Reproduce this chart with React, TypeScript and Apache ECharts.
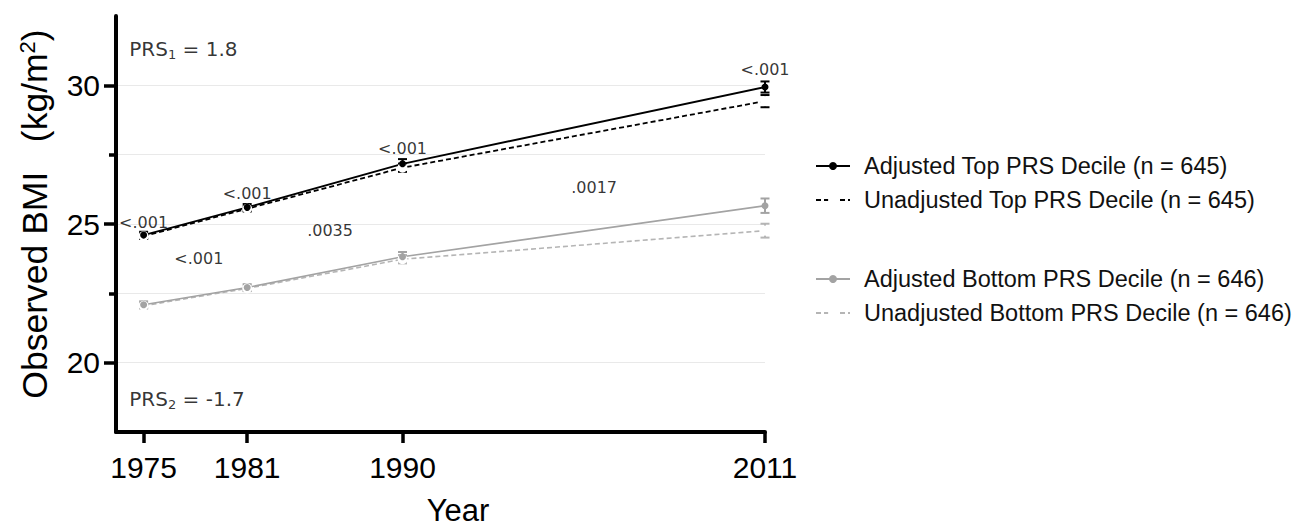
import React, { useEffect, useRef } from "react";
import * as echarts from "echarts";

const years = [1975, 1981, 1990, 2011];
const xTickValues = [1975, 1981, 1990, 2011];
const yLabelValues = [20, 25, 30];
const yMinorTickValues = [22.5, 27.5];

const adjTop = [24.6, 25.6, 27.17, 29.94];
const adjTopErr = [0.12, 0.12, 0.17, 0.2];
const unadjTop = [24.56, 25.55, 27.03, 29.43];
const unadjTopErr = [0.1, 0.1, 0.15, 0.22];
const adjBottom = [22.09, 22.71, 23.82, 25.66];
const adjBottomErr = [0.12, 0.12, 0.17, 0.26];
const unadjBottom = [22.05, 22.68, 23.73, 24.76];
const unadjBottomErr = [0.1, 0.1, 0.15, 0.25];

const seriesNames = [
  "Adjusted Top PRS Decile (n = 645)",
  "Unadjusted Top PRS Decile (n = 645)",
  "Adjusted Bottom PRS Decile (n = 646)",
  "Unadjusted Bottom PRS Decile (n = 646)",
];

// p-value annotations: [year, value, text]
const pAnnotations: [number, number, string][] = [
  [1975, 25.07, "<.001"],
  [1981, 26.09, "<.001"],
  [1990, 27.72, "<.001"],
  [2011, 30.58, "<.001"],
  [1978.2, 23.77, "<.001"],
  [1985.8, 24.78, ".0035"],
  [2001.1, 26.3, ".0017"],
];

// PRS annotations: [year, value, subscript, rest]
const prsAnnotations: [number, number, string, string][] = [
  [1974.17, 31.3, "1", " = 1.8"],
  [1974.17, 18.7, "2", " = -1.7"],
];

const BLACK = "#000000";
const GRAY_ADJ = "#a3a3a3";
const GRAY_UNADJ = "#b5b5b5";
const AXIS_FONT = "'Liberation Sans', Arial, sans-serif";
const ANNOT_FONT = "'DejaVu Sans', Verdana, sans-serif";

function errSeries(vals: number[], errs: number[], color: string) {
  return {
    type: "custom",
    z: 3,
    silent: true,
    data: years.map((y, i) => [y, vals[i], errs[i]]),
    renderItem: (params: any, api: any) => {
      const x = api.value(0);
      const v = api.value(1);
      const e = api.value(2);
      const top = api.coord([x, v + e]);
      const bot = api.coord([x, v - e]);
      const cw = 4.5;
      const style = { stroke: color, lineWidth: 2 };
      return {
        type: "group",
        children: [
          { type: "line", shape: { x1: top[0], y1: top[1], x2: bot[0], y2: bot[1] }, style },
          { type: "line", shape: { x1: top[0] - cw, y1: top[1], x2: top[0] + cw, y2: top[1] }, style },
          { type: "line", shape: { x1: bot[0] - cw, y1: bot[1], x2: bot[0] + cw, y2: bot[1] }, style },
        ],
      };
    },
  };
}

function lineSeries(name: string, vals: number[], color: string, dashed: boolean, width: number) {
  return {
    name,
    type: "line",
    z: 4,
    data: years.map((y, i) => [y, vals[i]]),
    symbol: dashed ? "emptyCircle" : "circle",
    symbolSize: dashed ? 8 : 7,
    showSymbol: true,
    lineStyle: { color, width, type: dashed ? [5, 3] : "solid" },
    itemStyle: { color: dashed ? "#ffffff" : color, borderColor: color, borderWidth: dashed ? 1.6 : 0 },
    emphasis: { disabled: true },
  };
}

export default function App() {
  const ref = useRef<HTMLDivElement>(null);
  useEffect(() => {
    if (!ref.current) return;
    const chart = echarts.init(ref.current, undefined, { renderer: "svg" });
    const legendText = { fontSize: 23.5, color: "#111", fontFamily: AXIS_FONT, padding: [0, 0, 0, 9] };
    chart.setOption({
      animation: false,
      backgroundColor: "#ffffff",
      grid: { left: 116, right: 536, top: 16, bottom: 95, containLabel: false, outerBoundsMode: "none" },
      legend: [
        {
          data: [
            { name: seriesNames[0], itemStyle: { color: BLACK, borderWidth: 0 } },
            { name: seriesNames[1], itemStyle: { color: "#fff", borderColor: BLACK, borderWidth: 1.2 } },
          ],
          orient: "vertical",
          left: 810,
          top: 149,
          itemWidth: 34,
          itemHeight: 10,
          itemGap: 10,
          textStyle: legendText,
          selectedMode: false,
        },
        {
          data: [
            { name: seriesNames[2], itemStyle: { color: GRAY_ADJ, borderWidth: 0 } },
            { name: seriesNames[3], itemStyle: { color: "#fff", borderColor: GRAY_UNADJ, borderWidth: 1.2 } },
          ],
          orient: "vertical",
          left: 810,
          top: 262,
          itemWidth: 34,
          itemHeight: 10,
          itemGap: 10,
          textStyle: legendText,
          selectedMode: false,
        },
      ],
      xAxis: {
        type: "value",
        min: 1973.4,
        max: 2011,
        axisLine: { show: true, lineStyle: { color: BLACK, width: 4 } },
        axisTick: { show: true, customValues: xTickValues, length: 11, lineStyle: { color: BLACK, width: 3.5 } },
        axisLabel: {
          customValues: xTickValues,
          fontSize: 30,
          color: BLACK,
          fontFamily: AXIS_FONT,
          margin: 20,
          formatter: (v: number) => String(v),
        },
        splitLine: { show: false },
        name: "Year",
        nameLocation: "middle",
        nameGap: 63,
        nameTextStyle: {
          fontSize: 31,
          lineHeight: 30,
          color: BLACK,
          fontFamily: AXIS_FONT,
          padding: [0, 0, 0, 35],
        },
      },
      yAxis: [
        {
          type: "value",
          min: 17.5,
          max: 32.5,
          interval: 2.5,
          axisLine: { show: true, lineStyle: { color: BLACK, width: 4 } },
          axisTick: { show: true, customValues: yLabelValues, length: 12, lineStyle: { color: BLACK, width: 3.5 } },
          axisLabel: {
            customValues: yLabelValues,
            fontSize: 30,
            color: BLACK,
            fontFamily: AXIS_FONT,
            margin: 16,
          },
          splitLine: { show: true, showMinLine: true, showMaxLine: true, lineStyle: { color: "#e9e9e9", width: 1 } },
          name: "{t|Observed BMI   (kg/m}{s|2}{t|)}",
          nameLocation: "middle",
          nameGap: 62,
          nameTextStyle: {
            color: BLACK,
            fontFamily: AXIS_FONT,
            padding: [0, 0, 0, 20],
            rich: {
              t: { fontSize: 35.5, fontFamily: AXIS_FONT, color: BLACK, lineHeight: 38 },
              s: { fontSize: 22, fontFamily: AXIS_FONT, color: BLACK, verticalAlign: "top", lineHeight: 22 },
            },
          },
        },
        {
          type: "value",
          min: 17.5,
          max: 32.5,
          interval: 2.5,
          position: "left",
          axisLine: { show: false },
          axisTick: { show: true, customValues: yMinorTickValues, length: 7, lineStyle: { color: BLACK, width: 3.5 } },
          axisLabel: { show: false },
          splitLine: { show: true, showMinLine: true, showMaxLine: true, lineStyle: { color: "#e9e9e9", width: 1 } },
        },
      ],
      series: [
        errSeries(unadjBottom, unadjBottomErr, GRAY_UNADJ),
        errSeries(adjBottom, adjBottomErr, GRAY_ADJ),
        errSeries(unadjTop, unadjTopErr, BLACK),
        errSeries(adjTop, adjTopErr, BLACK),
        lineSeries(seriesNames[3], unadjBottom, GRAY_UNADJ, true, 1.6),
        lineSeries(seriesNames[2], adjBottom, GRAY_ADJ, false, 1.6),
        lineSeries(seriesNames[1], unadjTop, BLACK, true, 1.8),
        lineSeries(seriesNames[0], adjTop, BLACK, false, 1.8),
        {
          type: "scatter",
          silent: true,
          symbolSize: 0,
          z: 5,
          data: pAnnotations.map((a) => ({ value: [a[0], a[1]], name: a[2] })),
          label: {
            show: true,
            position: "inside",
            formatter: (p: any) => p.name,
            fontSize: 16,
            fontFamily: ANNOT_FONT,
            color: "#000",
          },
        },
        {
          type: "scatter",
          silent: true,
          symbolSize: 0,
          z: 5,
          data: prsAnnotations.map((a) => ({ value: [a[0], a[1]], name: a[2], rest: a[3] })),
          label: {
            show: true,
            position: "right",
            distance: 0,
            formatter: (p: any) => `{a|PRS}{s|${p.data.name}}{a|${p.data.rest}}`,
            rich: {
              a: { fontSize: 20, fontFamily: ANNOT_FONT, color: "#000", lineHeight: 24 },
              s: { fontSize: 13, fontFamily: ANNOT_FONT, color: "#000", verticalAlign: "bottom", lineHeight: 12 },
            },
          },
        },
      ],
    });
    return () => chart.dispose();
  }, []);
  return (
    <div
      ref={ref}
      style={{ position: "absolute", left: 0, top: 0, width: 1301, height: 527, background: "#fff" }}
    />
  );
}
